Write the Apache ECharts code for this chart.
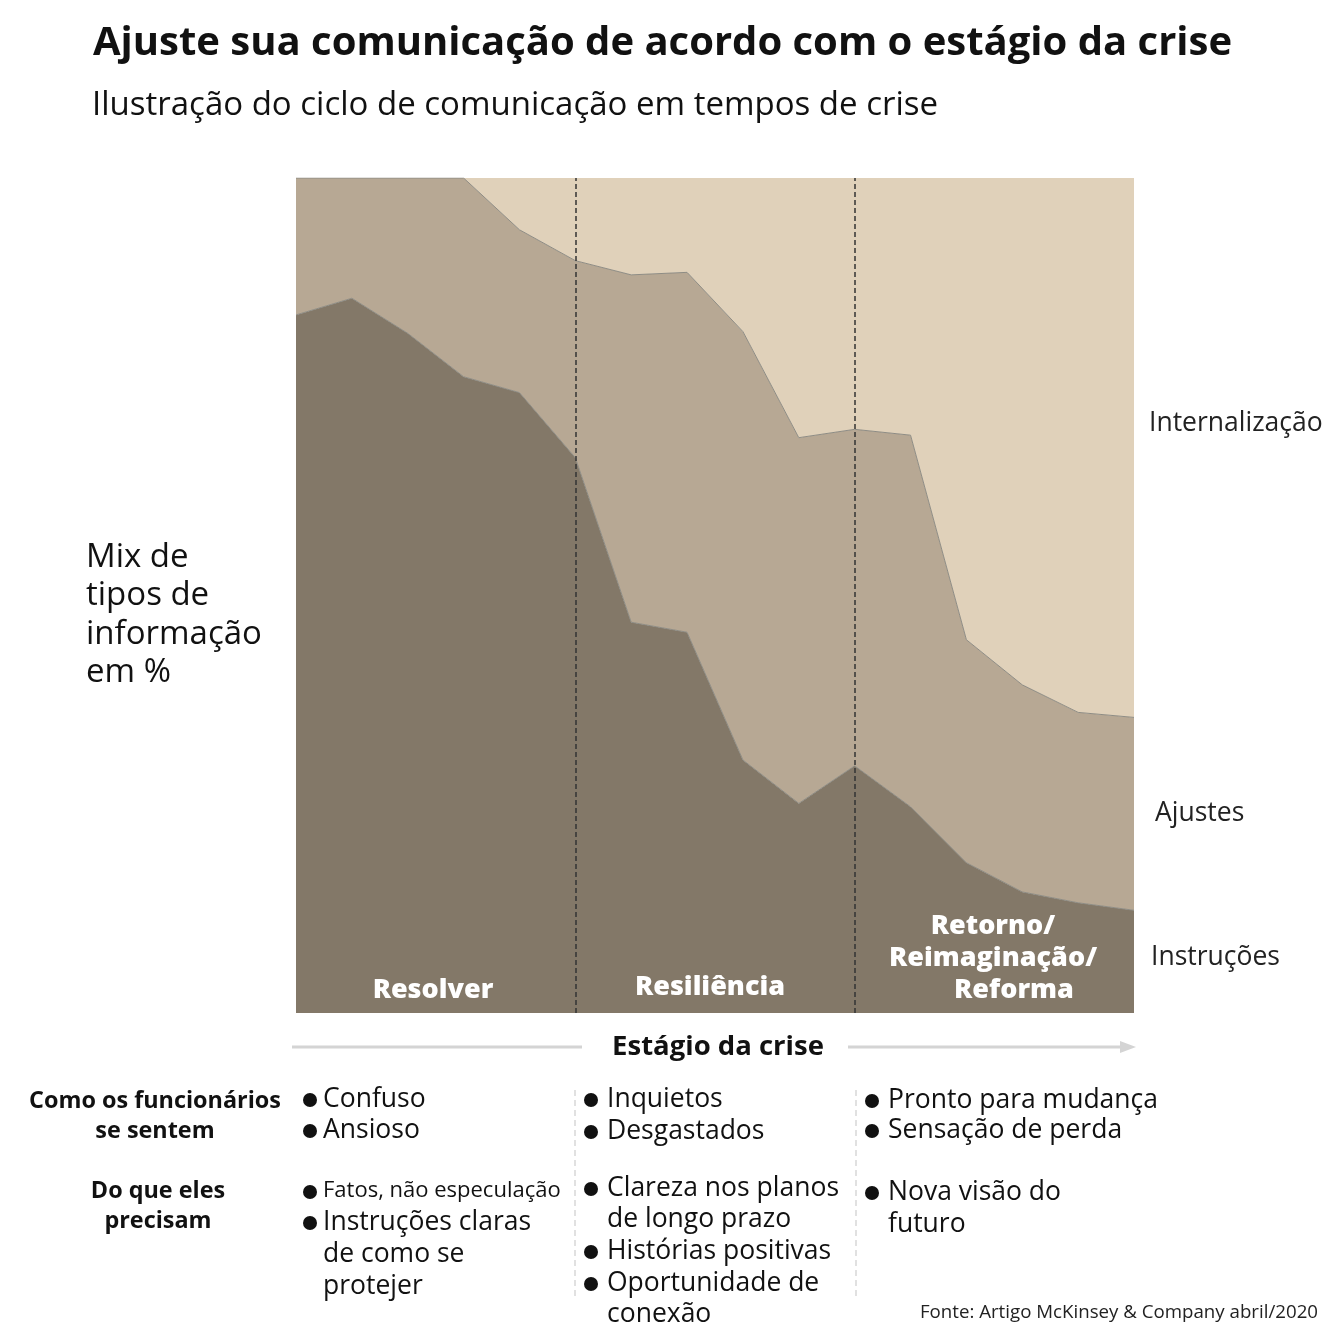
<!DOCTYPE html>
<html>
<head>
<meta charset="utf-8">
<script src="https://cdn.jsdelivr.net/npm/echarts@6/dist/echarts.min.js"></script>
<style>
html,body{margin:0;padding:0;background:#fff;}
#c{width:1333px;height:1333px;}
</style>
</head>
<body>
<div id="c"></div>
<script>
const steps = ['1','2','3','4','5','6','7','8','9','10','11','12','13','14','15','16'];
const instrucoes = [83.6, 85.6, 81.4, 76.2, 74.3, 66.5, 46.8, 45.6, 30.3, 25.1, 29.6, 24.7, 18.0, 14.5, 13.2, 12.3];
const ajustes = [16.4, 14.4, 18.6, 23.8, 19.5, 23.6, 41.6, 43.1, 51.3, 43.8, 40.3, 44.5, 26.7, 24.8, 22.8, 23.1];
const internalizacao = [0, 0, 0, 0, 6.2, 9.9, 11.6, 11.3, 18.4, 31.1, 30.1, 30.8, 55.3, 60.7, 64.0, 64.6];
const stageBreaks = [5, 10];
const stageNames = ['Resolver', 'Resiliência', 'Retorno/', 'Reimaginação/', 'Reforma'];

const FONT = '"Open Sans", "Noto Sans", sans-serif';
const chart = echarts.init(document.getElementById('c'));

function txt(x, y, text, size, opts) {
  opts = opts || {};
  return {
    type: 'text', x: x, y: y, silent: true, z: 100,
    style: {
      text: text, fontFamily: FONT, fontSize: size,
      fontWeight: opts.weight || (opts.bold ? 'bold' : 'normal'),
      fill: opts.color || '#111',
      align: opts.align || 'left', verticalAlign: 'middle',
      lineHeight: opts.lh || undefined
    }
  };
}
function bullet(x, y) {
  return { type: 'circle', silent: true, z: 100, shape: { cx: x, cy: y, r: 7 }, style: { fill: '#111' } };
}
const B = 26.5;
const S = {weight: 800, color: '#fff', align: 'center'};

const graphics = [
  txt(93, 44, 'Ajuste sua comunicação de acordo com o estágio da crise', 40, {bold: true}),
  txt(92, 106, 'Ilustração do ciclo de comunicação em tempos de crise', 33, {}),
  txt(86, 615, 'Mix de\ntipos de\ninformação\nem %', 33, {lh: 38.5}),
  txt(1149, 423, 'Internalização', 26.5, {color: '#222'}),
  txt(1155, 813, 'Ajustes', 26.5, {color: '#222'}),
  txt(1151, 957, 'Instruções', 26.5, {color: '#222'}),
  txt(433, 990, stageNames[0], 27, S),
  txt(710, 987, stageNames[1], 27, S),
  txt(993, 926, stageNames[2], 27, S),
  txt(993, 958, stageNames[3], 27, S),
  txt(1014, 990, stageNames[4], 27, S),
  // stage axis
  { type: 'line', silent: true, shape: {x1: 292, y1: 1047, x2: 582, y2: 1047}, style: {stroke: '#d4d4d4', lineWidth: 3} },
  { type: 'line', silent: true, shape: {x1: 848, y1: 1047, x2: 1122, y2: 1047}, style: {stroke: '#d4d4d4', lineWidth: 3} },
  { type: 'polygon', silent: true, shape: {points: [[1120, 1041], [1136, 1047], [1120, 1053]]}, style: {fill: '#d4d4d4'} },
  txt(718, 1047, 'Estágio da crise', 27.5, {bold: true, align: 'center'}),
  // table row labels
  txt(155, 1101, 'Como os funcionários', 23.4, {bold: true, align: 'center'}),
  txt(155, 1131, 'se sentem', 23.4, {bold: true, align: 'center'}),
  txt(158, 1191, 'Do que eles', 23.4, {bold: true, align: 'center'}),
  txt(158, 1221, 'precisam', 23.4, {bold: true, align: 'center'}),
  // dashed separators
  { type: 'line', silent: true, shape: {x1: 575, y1: 1090, x2: 575, y2: 1300}, style: {stroke: '#d8d8d8', lineWidth: 1.5, lineDash: [6, 4]} },
  { type: 'line', silent: true, shape: {x1: 856, y1: 1090, x2: 856, y2: 1300}, style: {stroke: '#d8d8d8', lineWidth: 1.5, lineDash: [6, 4]} },
  // col 1
  bullet(310, 1100), txt(323, 1099, 'Confuso', B, {}),
  bullet(310, 1131), txt(323, 1130, 'Ansioso', B, {}),
  bullet(310, 1192), txt(323, 1191, 'Fatos, não especulação', 22, {}),
  bullet(310, 1223), txt(323, 1222, 'Instruções claras', B, {}),
  txt(323, 1254, 'de como se', B, {}),
  txt(323, 1286, 'protejer', B, {}),
  // col 2
  bullet(591, 1100), txt(607, 1099, 'Inquietos', B, {}),
  bullet(591, 1132), txt(607, 1131, 'Desgastados', B, {}),
  bullet(591, 1189), txt(607, 1188, 'Clareza nos planos', B, {}),
  txt(607, 1219, 'de longo prazo', B, {}),
  bullet(591, 1252), txt(607, 1251, 'Histórias positivas', B, {}),
  bullet(591, 1284), txt(607, 1283, 'Oportunidade de', B, {}),
  txt(607, 1314, 'conexão', B, {}),
  // col 3
  bullet(872, 1101), txt(888, 1100, 'Pronto para mudança', B, {}),
  bullet(872, 1131), txt(888, 1130, 'Sensação de perda', B, {}),
  bullet(872, 1193), txt(888, 1192, 'Nova visão do', B, {}),
  txt(888, 1224, 'futuro', B, {}),
  txt(1318, 1313, 'Fonte: Artigo McKinsey & Company abril/2020', 18.7, {align: 'right', color: '#222'})
];

function areaSeries(name, data, color, extra) {
  return Object.assign({
    name: name, type: 'line', stack: 'total', data: data,
    symbol: 'none', silent: true, z: 2,
    lineStyle: { width: 1, color: '#8e8c84' },
    areaStyle: { color: color, opacity: 1 },
    emphasis: { disabled: true }
  }, extra || {});
}

chart.setOption({
  animation: false,
  backgroundColor: '#fff',
  grid: { left: 296, top: 178, width: 838, height: 835, containLabel: false },
  xAxis: { type: 'category', data: steps, boundaryGap: false, show: false },
  yAxis: { type: 'value', min: 0, max: 100, show: false },
  series: [
    areaSeries('Instruções', instrucoes, '#837868'),
    areaSeries('Ajustes', ajustes, '#b7a894'),
    areaSeries('Internalização', internalizacao, '#e0d1ba', {
      lineStyle: { width: 0 },
      markLine: {
        silent: true, symbol: 'none', label: { show: false },
        lineStyle: { color: '#333', type: [5, 3], width: 1.5 },
        data: stageBreaks.map(function (b) { return { xAxis: b }; })
      }
    })
  ],
  graphic: graphics
});
</script>
</body>
</html>
